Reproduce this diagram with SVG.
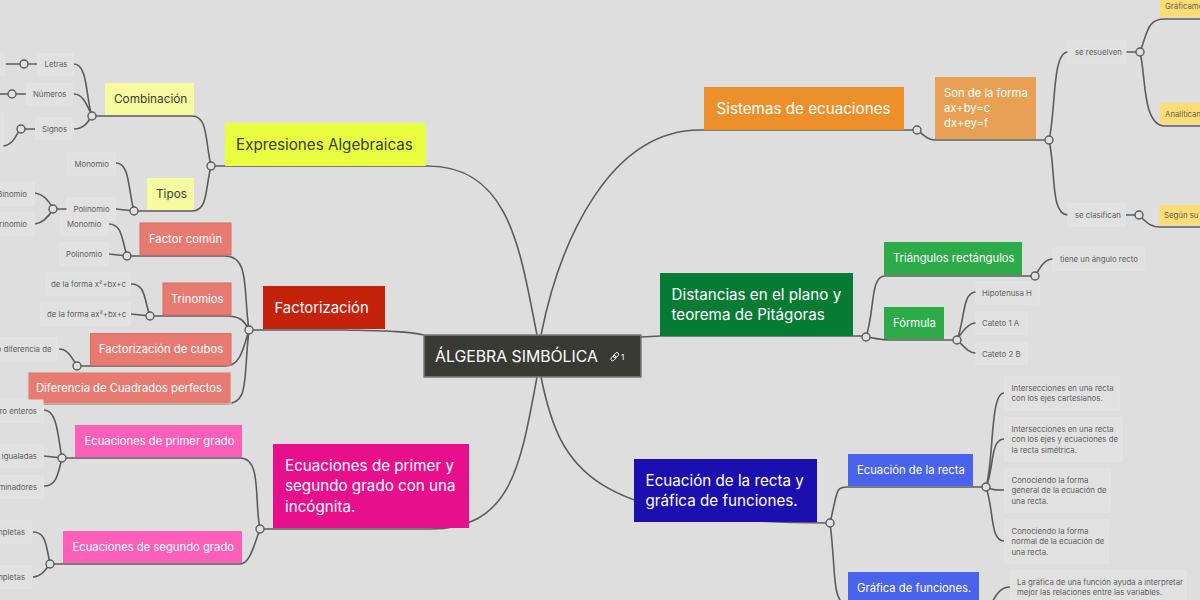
<svg xmlns="http://www.w3.org/2000/svg" width="1200" height="600" viewBox="0 0 1200 600">
<style>
text{font-family:"Inter","Noto Sans","Liberation Sans",sans-serif}
.c{fill:none;stroke:#5c5c5c;stroke-width:1.6}
.k{fill:#e0e0e0;stroke:#5c5c5c;stroke-width:1.4}
.leaf{fill:#e1e1e1;stroke:#e5e5e5;stroke-width:1}
.lt{font-size:7.8px;fill:#5f5f5f}
.w{fill:#fff}
.d{fill:#3c3c34}
.big{font-size:15.2px}
.mid{font-size:11.25px}
</style>
<rect width="1200" height="600" fill="#dedede"/>
<g id="connectors">
<path class="c" d="M424 335C405 331 385 331 345 330H249M537 335C520 250 510 165 426 166H211M541 335C560 240 610 130 700 130H917M641 337L660 336H866M537 377C520 470 510 529 430 529H260M541 377C560 470 590 523 830 523"/>
<path class="c" d="M917 130C925 136 928 140 935 140H1049M1049 140C1056 110 1052 52 1068 52M1049 140C1056 170 1050 215 1068 215M1126 52H1140M1140 52C1148 30 1148 19 1165 19H1200M1140 52C1146 75 1142 126 1165 126H1200M1126 215H1139M1139 215C1146 222 1150 227 1160 227H1200"/>
<path class="c" d="M866 337C875 310 870 276 885 276H1035M1035 276C1040 268 1044 259 1053 259M866 337C875 338 880 340 890 340H957M957 340C965 320 962 292 976 292M957 340C962 332 968 323 976 323M957 340C964 346 968 353 976 353"/>
<path class="c" d="M830 523C838 490 835 487 848 487H986M986 487C994 460 990 393 1004 393M986 487C994 470 990 439 1004 439M986 487C992 490 996 490 1004 490M986 487C994 510 990 541 1004 541M830 523C836 570 832 600 845 604H972M990 606C996 595 1000 587 1010 587"/>
<path class="c" d="M211 166C205 140 208 116 192 116H92M92 116C86 100 88 64 74 64M92 116C88 108 84 94 74 94M92 116C88 122 84 129 74 129M37 64H6M35 129H21C18 129 15 146 2 146M0 94H26M211 166C205 190 208 211 192 211H134M134 211C128 190 130 163 116 163M134 211L116 209M71 209H53M53 209C48 198 42 194 35 193M53 209C48 218 42 223 35 224"/>
<path class="c" d="M249 330C243 290 250 256 225 256H127M127 256C122 240 122 224 109 224M127 256L109 254M249 330C244 320 240 316 225 316H150M150 316C144 300 146 284 131 284M150 316L131 314M249 330C243 350 240 366 225 366H77M77 366C72 358 68 349 59 349M249 330C243 380 250 404 225 404H0"/>
<path class="c" d="M260 529C254 500 262 458 240 458H62M62 458C58 440 58 410 44 410M62 458L44 456M62 458C58 475 56 486 44 486M260 529C254 545 250 564 240 564H50M50 564C46 545 46 532 33 532M50 564C44 572 40 577 33 577"/>
<g>
<circle class="k" cx="917" cy="130" r="4"/><circle class="k" cx="1049" cy="140" r="4"/><circle class="k" cx="1140" cy="52" r="4"/><circle class="k" cx="1139" cy="215" r="4"/>
<circle class="k" cx="866" cy="337" r="4"/><circle class="k" cx="1035" cy="276" r="4"/><circle class="k" cx="957" cy="340" r="4"/>
<circle class="k" cx="830" cy="523" r="4"/><circle class="k" cx="986" cy="487" r="4"/>
<circle class="k" cx="211" cy="166" r="4"/><circle class="k" cx="92" cy="116" r="4"/><circle class="k" cx="24" cy="64" r="4"/><circle class="k" cx="12" cy="94" r="4"/><circle class="k" cx="21" cy="129" r="4"/><circle class="k" cx="134" cy="211" r="4"/><circle class="k" cx="53" cy="209" r="4"/>
<circle class="k" cx="249" cy="330" r="4"/><circle class="k" cx="127" cy="256" r="4"/><circle class="k" cx="150" cy="316" r="4"/><circle class="k" cx="77" cy="366" r="4"/>
<circle class="k" cx="260" cy="529" r="4"/><circle class="k" cx="62" cy="458" r="4"/><circle class="k" cx="50" cy="564" r="4"/>
</g>
</g>
<g id="root"><rect x="424" y="335" width="217" height="42" fill="#3a3a34" stroke="#7c7c78" stroke-width="1.5"/><text x="435" y="362" font-size="15.800" class="w">ÁLGEBRA SIMBÓLICA</text><g fill="none" stroke="#fff" stroke-width="0.9"><rect x="610.500" y="356.500" width="6" height="3.400" rx="1.700" transform="rotate(-45 613.500 358.200)"/><rect x="613" y="353.500" width="6" height="3.400" rx="1.700" transform="rotate(-45 616 355.200)"/></g><text x="621" y="360" font-size="8" class="w">1</text></g>
<g id="expresiones"><rect x="225" y="123" width="201" height="43" fill="#e7ff40"/><text x="236" y="150" class="d big">Expresiones Algebraicas</text></g>
<g id="combinacion"><rect x="105" y="83" width="89" height="32" fill="#f7fba0"/><text x="114" y="102.500" font-size="11.800" class="d">Combinación</text></g>
<g id="tipos"><rect x="147" y="178" width="47" height="32" fill="#f7fba0"/><text x="156" y="197.500" font-size="11.800" class="d">Tipos</text></g>
<g id="letras"><rect x="38" y="54" width="35" height="21" class="leaf"/><text x="44.500" y="67" class="lt">Letras</text></g>
<g id="numeros"><rect x="27" y="84" width="45" height="21" class="leaf"/><text x="33" y="97" class="lt">Números</text></g>
<g id="signos"><rect x="36" y="118" width="36" height="21" class="leaf"/><text x="42" y="132" class="lt">Signos</text></g>
<g id="leaf-a"><rect x="-10" y="54" width="14" height="21" class="leaf"/></g>
<g id="leaf-b"><rect x="-10" y="113" width="13" height="34" class="leaf"/></g>
<g id="monomio1"><rect x="68" y="153" width="47" height="22" class="leaf"/><text x="74.500" y="166.500" class="lt">Monomio</text></g>
<g id="polinomio1"><rect x="67" y="198" width="48" height="22" class="leaf"/><text x="73.500" y="212" class="lt">Polinomio</text></g>
<g id="binomio"><rect x="-10" y="183" width="44" height="22" class="leaf"/><text x="27" y="197" text-anchor="end" class="lt">Binomio</text></g>
<g id="trinomio"><rect x="-10" y="213" width="44" height="22" class="leaf"/><text x="27" y="227" text-anchor="end" class="lt">Trinomio</text></g>
<g id="factorizacion"><rect x="263" y="286" width="122" height="43" fill="#c2230a"/><text x="274.500" y="313" font-size="14.800" class="w">Factorización</text></g>
<g id="factor-comun"><rect x="140" y="223" width="91" height="32" fill="#e77b72" stroke="#d96a5e"/><text x="149" y="242.500" class="w mid">Factor común</text></g>
<g id="trinomios"><rect x="163" y="283" width="68" height="32" fill="#e77b72" stroke="#d96a5e"/><text x="171" y="302.500" class="w mid">Trinomios</text></g>
<g id="cubos"><rect x="90.500" y="333.500" width="140.500" height="32" fill="#e77b72" stroke="#d96a5e"/><text x="99" y="352.500" class="w mid">Factorización de cubos</text></g>
<g id="cuadrados"><rect x="28" y="372" width="203" height="32" fill="#e77b72" stroke="#d5d5d5"/><text x="36" y="391.500" class="w mid">Diferencia de Cuadrados perfectos</text></g>
<g id="monomio2"><rect x="61" y="213" width="46" height="22" class="leaf"/><text x="67" y="226.500" class="lt">Monomio</text></g>
<g id="polinomio2"><rect x="60" y="243" width="48" height="22" class="leaf"/><text x="66" y="257" class="lt">Polinomio</text></g>
<g id="forma1"><rect x="46" y="273" width="84" height="22" class="leaf"/><text x="51" y="287" class="lt">de la forma x²+bx+c</text></g>
<g id="forma2"><rect x="41" y="303" width="89" height="22" class="leaf"/><text x="47" y="317" class="lt">de la forma ax²+bx+c</text></g>
<g id="dif"><rect x="-10" y="338" width="67" height="22" class="leaf"/><text x="51.500" y="352" text-anchor="end" class="lt">o diferencia de</text></g>
<g id="ecuaciones"><rect x="273" y="444" width="196" height="84" fill="#e80f8c"/><text class="w big"><tspan x="285" y="471">Ecuaciones de primer y</tspan><tspan x="285" y="491">segundo grado con una</tspan><tspan x="285" y="512">incógnita.</tspan></text></g>
<g id="primer"><rect x="75" y="425" width="167" height="32" fill="#fd5fb9"/><text x="84.500" y="444.500" class="w mid">Ecuaciones de primer grado</text></g>
<g id="segundo"><rect x="63" y="531" width="179" height="32" fill="#fd5fb9"/><text x="72.500" y="550.500" class="w mid">Ecuaciones de segundo grado</text></g>
<g id="enteros"><rect x="-10" y="400" width="53" height="22" class="leaf"/><text x="37" y="414" text-anchor="end" class="lt">ro enteros</text></g>
<g id="igualadas"><rect x="-10" y="445" width="53" height="22" class="leaf"/><text x="37" y="459" text-anchor="end" class="lt">s igualadas</text></g>
<g id="denominadores"><rect x="-10" y="476" width="53" height="22" class="leaf"/><text x="37" y="490" text-anchor="end" class="lt">minadores</text></g>
<g id="incompletas"><rect x="-10" y="521" width="41" height="22" class="leaf"/><text x="25" y="535" text-anchor="end" class="lt">mpletas</text></g>
<g id="completas"><rect x="-10" y="566" width="41" height="22" class="leaf"/><text x="25" y="580" text-anchor="end" class="lt">mpletas</text></g>
<g id="sistemas"><rect x="704" y="87" width="200" height="43" fill="#ec902c"/><text x="716.500" y="114" class="w big">Sistemas de ecuaciones</text></g>
<g id="forma"><rect x="935" y="77" width="101" height="62" fill="#e8a055"/><text font-size="11.250" class="w"><tspan x="944" y="97">Son de la forma</tspan><tspan x="944" y="112">ax+by=c</tspan><tspan x="944" y="127">dx+ey=f</tspan></text></g>
<g id="resuelven"><rect x="1068" y="41" width="58" height="22" class="leaf"/><text x="1075" y="55" class="lt">se resuelven</text></g>
<g id="clasifican"><rect x="1068" y="204" width="57" height="22" class="leaf"/><text x="1075" y="218" class="lt">se clasifican</text></g>
<g id="graficamente"><rect x="1160" y="-5" width="50" height="22" fill="#ffdd75"/><text x="1165" y="9" class="lt">Gráficame</text></g>
<g id="analiticamente"><rect x="1160" y="103" width="50" height="21" fill="#ffdd75"/><text x="1165" y="116.500" class="lt">Analíticam</text></g>
<g id="segun"><rect x="1159" y="205" width="50" height="20" fill="#ffdd75"/><text x="1164" y="217.500" class="lt">Según su</text></g>
<g id="distancias"><rect x="660" y="273" width="193" height="63" fill="#067b34"/><text class="w big"><tspan x="671.500" y="300">Distancias en el plano y</tspan><tspan x="671.500" y="320">teorema de Pitágoras</tspan></text></g>
<g id="triangulos"><rect x="884" y="242" width="138" height="33" fill="#2cab48"/><text x="893" y="262" class="w mid">Triángulos rectángulos</text></g>
<g id="formula"><rect x="884" y="307" width="60" height="32" fill="#2cab48"/><text x="893" y="326.500" class="w mid">Fórmula</text></g>
<g id="angulo"><rect x="1053" y="248" width="91" height="22" class="leaf"/><text x="1060" y="262" class="lt">tiene un ángulo recto</text></g>
<g id="hipotenusa"><rect x="976" y="282" width="63" height="22" class="leaf"/><text x="982" y="296" class="lt">Hipotenusa H</text></g>
<g id="cateto1"><rect x="976" y="312" width="51" height="22" class="leaf"/><text x="982" y="326" class="lt">Cateto 1 A</text></g>
<g id="cateto2"><rect x="976" y="343" width="51" height="21" class="leaf"/><text x="982" y="356.500" class="lt">Cateto 2 B</text></g>
<g id="ecuacion-grafica"><rect x="634" y="459" width="183" height="63" fill="#1b0fb0"/><text class="w big"><tspan x="645.500" y="486">Ecuación de la recta y</tspan><tspan x="645.500" y="506">gráfica de funciones.</tspan></text></g>
<g id="ecuacion-recta"><rect x="848" y="454" width="125" height="32" fill="#4a63ec"/><text x="857" y="473.500" class="w mid">Ecuación de la recta</text></g>
<g id="grafica"><rect x="848" y="572" width="131" height="32" fill="#4a63ec"/><text x="857" y="591.500" class="w mid">Gráfica de funciones.</text></g>
<g id="int1"><rect x="1005" y="377" width="114" height="33" class="leaf"/><text class="lt"><tspan x="1011.500" y="391">Intersecciones en una recta</tspan><tspan x="1011.500" y="401">con los ejes cartesianos.</tspan></text></g>
<g id="int2"><rect x="1005" y="418" width="117" height="43" class="leaf"/><text class="lt"><tspan x="1011.500" y="432">Intersecciones en una recta</tspan><tspan x="1011.500" y="442">con los ejes y ecuaciones de</tspan><tspan x="1011.500" y="453">la recta simétrica.</tspan></text></g>
<g id="conoc1"><rect x="1005" y="469" width="105" height="43" class="leaf"/><text class="lt"><tspan x="1011.500" y="483">Conociendo la forma</tspan><tspan x="1011.500" y="493">general de la ecuación de</tspan><tspan x="1011.500" y="504">una recta.</tspan></text></g>
<g id="conoc2"><rect x="1005" y="520" width="103" height="43" class="leaf"/><text class="lt"><tspan x="1011.500" y="534">Conociendo la forma</tspan><tspan x="1011.500" y="544">normal de la ecuación de</tspan><tspan x="1011.500" y="555">una recta.</tspan></text></g>
<g id="interpretar"><rect x="1011" y="571" width="175" height="40" class="leaf"/><text class="lt"><tspan x="1017" y="585">La gráfica de una función ayuda a interpretar</tspan><tspan x="1017" y="595">mejor las relaciones entre las variables.</tspan></text></g>
</svg>
